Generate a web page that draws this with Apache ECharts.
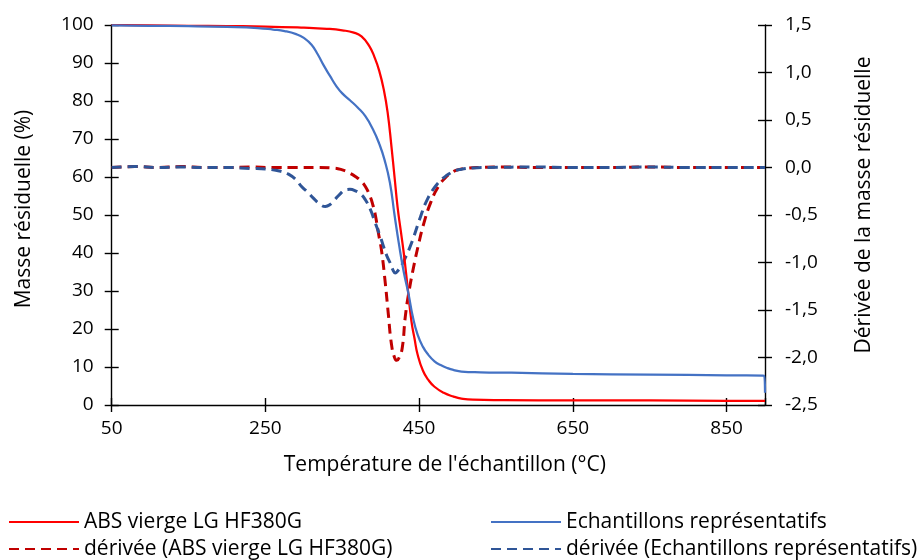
<!DOCTYPE html>
<html>
<head>
<meta charset="utf-8">
<script src="https://cdn.jsdelivr.net/npm/echarts@6/dist/echarts.min.js"></script>
<style>
html,body{margin:0;padding:0;background:#fff;}
#chart{width:917px;height:560px;}
</style>
</head>
<body>
<div id="chart"></div>
<script>
// ---- Data ----
const seriesNames = ['ABS vierge LG HF380G', 'Echantillons représentatifs', 'dérivée (ABS vierge LG HF380G)', 'dérivée (Echantillons représentatifs)'];

// Residual mass (%) - ABS vierge
const absTemp = [50,100,150,200,250,300,330,350,365,375,385,392,398,404,409,414,418,422,426,430,435,440,444,448,455,462,470,482,495,505,520,560,650,750,850,900];
const absMass = [100,99.9,99.8,99.7,99.6,99.3,99.0,98.6,98.0,97.0,94.5,91.5,88,83,77,68,60,52,46,40,31,22,17.5,13.3,9,6.6,4.8,3.2,2.2,1.7,1.4,1.3,1.2,1.2,1.1,1.1];

// Residual mass (%) - Echantillons représentatifs
const echTemp = [50,100,150,200,240,260,275,290,300,310,318,326,334,342,350,360,370,380,390,398,405,412,418,424,430,436,442,448,455,462,470,478,487,495,505,530,570,650,750,850,899,900];
const echMass = [99.9,99.8,99.7,99.5,99.2,98.8,98.4,97.6,96.6,94.8,92.3,89.3,86.6,84,82,80.2,78.3,76,72.5,68.8,64.5,58.5,50,42,35,29.4,23,18.5,15.3,13.2,11.5,10.5,9.7,9.2,8.8,8.6,8.5,8.2,8.0,7.8,7.7,3.2];

// Derivative - ABS vierge
const dAbsTemp = [50,80,110,140,170,200,230,260,290,320,338,350,360,368,374,380,386,390,393,397,401,406,410,414,418,421,424,428,432,436.5,443,449.5,456,465,475,485,491,500,512,530,560,600,650,700,750,800,850,900];
const dAbsVal = [0.0,0.01,0.0,0.01,0.0,0.0,0.005,0.0,0.0,0.0,-0.005,-0.025,-0.06,-0.1,-0.14,-0.2,-0.3,-0.4,-0.5,-0.69,-0.87,-1.22,-1.55,-1.86,-2.0,-2.03,-2.0,-1.9,-1.57,-1.32,-1.04,-0.8,-0.59,-0.37,-0.2,-0.1,-0.06,-0.025,-0.008,0.0,0.005,0.0,0.0,0.0,0.005,0.0,0.0,0.0];

// Derivative - Echantillons représentatifs
const dEchTemp = [50,80,110,140,170,200,230,250,260,270,280,290,297,305,312,320,328,334,340,347,353,360,367,374,380,386.5,391,395,400,404,408,412.6,416,419,422,427.8,432,436.5,443,451.7,460.4,471,480,486.5,495,504,520,540,600,650,700,750,800,850,900];
const dEchVal = [0.0,0.01,0.0,0.005,0.0,0.0,-0.01,-0.015,-0.025,-0.04,-0.07,-0.13,-0.2,-0.26,-0.32,-0.38,-0.41,-0.39,-0.34,-0.28,-0.24,-0.23,-0.245,-0.28,-0.34,-0.44,-0.54,-0.63,-0.74,-0.84,-0.93,-1.01,-1.08,-1.11,-1.09,-1.02,-0.95,-0.87,-0.73,-0.52,-0.34,-0.2,-0.12,-0.08,-0.04,-0.02,-0.005,0.0,0.005,0.0,0.0,0.005,0.0,0.0,0.0];

// Axis settings
const xMin = 50, xMax = 900, xStep = 200;
const yLeftMin = 0, yLeftMax = 100, yLeftStep = 10;
const yRightMin = -2.5, yRightMax = 1.5, yRightStep = 0.5;

const zip = (a, b) => a.map((v, i) => [v, b[i]]);

const FONT = 'Open Sans';
const FS = 19;      // tick labels
const FS_T = 21;    // axis titles and legend
const axisLineStyle = { color: '#000', width: 1.4 };
const TICK = 7;

const chart = echarts.init(document.getElementById('chart'), null, { renderer: 'canvas' });

function legendItem(name, left, top, width) {
  return {
    orient: 'horizontal', left: left, top: top, itemWidth: width, itemHeight: 14,
    itemStyle: { opacity: 0 },
    textStyle: { fontFamily: FONT, fontSize: FS_T, color: '#000', lineHeight: 24 },
    data: [name]
  };
}

const option = {
  backgroundColor: '#fff',
  animation: false,
  textStyle: { fontFamily: FONT },
  grid: { left: 111.7, right: 152, top: 25, bottom: 155, containLabel: false },
  legend: [
    legendItem(seriesNames[0], 3, 505, 70),
    legendItem(seriesNames[2], 3, 532, 70),
    legendItem(seriesNames[1], 485, 505, 70),
    legendItem(seriesNames[3], 485, 532, 70)
  ],
  xAxis: [
    {
      type: 'value', min: xMin, max: xMax, interval: xStep, position: 'bottom',
      name: "Température de l'échantillon (°C)", nameLocation: 'middle', nameGap: 50,
      nameTextStyle: { fontFamily: FONT, fontSize: FS_T, color: '#000', padding: [0, 0, 0, 13] },
      axisLine: { show: true, onZero: false, lineStyle: axisLineStyle },
      axisTick: { show: true, inside: false, length: TICK, lineStyle: axisLineStyle },
      axisLabel: { fontFamily: FONT, fontSize: FS, color: '#000', margin: 14, showMaxLabel: false },
      splitLine: { show: false }
    },
    {
      type: 'value', min: xMin, max: xMax, interval: xStep, position: 'bottom',
      axisLine: { show: false },
      axisTick: { show: true, inside: true, length: TICK, lineStyle: axisLineStyle },
      axisLabel: { show: false },
      splitLine: { show: false }
    }
  ],
  yAxis: [
    {
      type: 'value', min: yLeftMin, max: yLeftMax, interval: yLeftStep, position: 'left',
      name: 'Masse résiduelle (%)', nameLocation: 'middle', nameGap: 77, nameRotate: 90,
      nameTextStyle: { fontFamily: FONT, fontSize: FS_T, color: '#000', padding: [0, 0, 0, 12] },
      axisLine: { show: true, onZero: false, lineStyle: axisLineStyle },
      axisTick: { show: true, inside: false, length: TICK, lineStyle: axisLineStyle },
      axisLabel: { fontFamily: FONT, fontSize: FS, color: '#000', margin: 18 },
      splitLine: { show: false }
    },
    {
      type: 'value', min: yRightMin, max: yRightMax, interval: yRightStep, position: 'right',
      name: 'Dérivée de la masse résiduelle', nameLocation: 'middle', nameGap: 89, nameRotate: 90,
      nameTextStyle: { fontFamily: FONT, fontSize: FS_T, color: '#000', padding: [0, 0, 0, 20] },
      axisLine: { show: true, onZero: false, lineStyle: axisLineStyle },
      axisTick: { show: true, inside: false, length: TICK, lineStyle: axisLineStyle },
      axisLabel: { fontFamily: FONT, fontSize: FS, color: '#000', margin: 20,
        formatter: v => v.toFixed(1).replace('.', ',') },
      splitLine: { show: false }
    },
    {
      type: 'value', min: yLeftMin, max: yLeftMax, interval: yLeftStep, position: 'left',
      axisLine: { show: false },
      axisTick: { show: true, inside: true, length: TICK, lineStyle: axisLineStyle },
      axisLabel: { show: false }, splitLine: { show: false }
    },
    {
      type: 'value', min: yRightMin, max: yRightMax, interval: yRightStep, position: 'right',
      axisLine: { show: false },
      axisTick: { show: true, inside: true, length: TICK, lineStyle: axisLineStyle },
      axisLabel: { show: false }, splitLine: { show: false }
    }
  ],
  series: [
    {
      name: seriesNames[2], type: 'line', xAxisIndex: 0, yAxisIndex: 1,
      data: zip(dAbsTemp, dAbsVal), symbol: 'none', showSymbol: false, smooth: 0.5,
      lineStyle: { color: '#C00000', width: 3, type: [10, 6], cap: 'butt' },
      itemStyle: { color: '#C00000' }, z: 2
    },
    {
      name: seriesNames[3], type: 'line', xAxisIndex: 0, yAxisIndex: 1,
      data: zip(dEchTemp, dEchVal), symbol: 'none', showSymbol: false, smooth: 0.5,
      lineStyle: { color: '#2F5597', width: 3, type: [10, 6], cap: 'butt' },
      itemStyle: { color: '#2F5597' }, z: 3
    },
    {
      name: seriesNames[0], type: 'line', xAxisIndex: 0, yAxisIndex: 0,
      data: zip(absTemp, absMass), symbol: 'none', showSymbol: false, smooth: 0.5,
      lineStyle: { color: '#FF0000', width: 2.25 },
      itemStyle: { color: '#FF0000' }, z: 4
    },
    {
      name: seriesNames[1], type: 'line', xAxisIndex: 0, yAxisIndex: 0,
      data: zip(echTemp, echMass), symbol: 'none', showSymbol: false, smooth: 0.5,
      lineStyle: { color: '#4472C4', width: 2.25 },
      itemStyle: { color: '#4472C4' }, z: 5
    }
  ]
};
chart.setOption(option);
</script>
</body>
</html>
